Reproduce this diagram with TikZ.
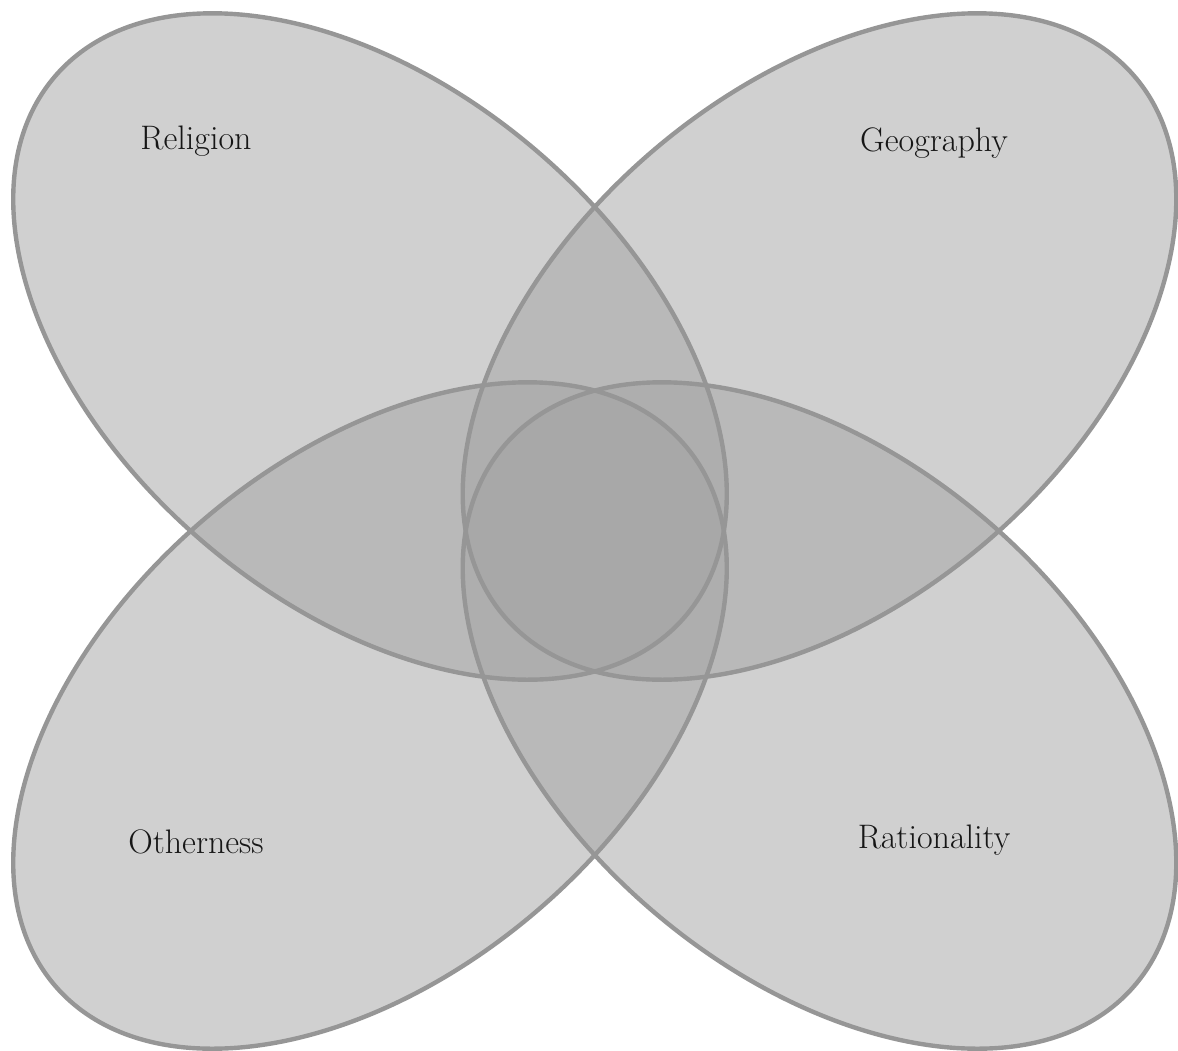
\documentclass[tikz,border=0pt]{standalone}
\usepackage{tikz}
\definecolor{petalfill}{RGB}{163,163,163}
\definecolor{petaledge}{RGB}{150,150,150}
\definecolor{petaltext}{RGB}{22,22,22}

\begin{document}
\begin{tikzpicture}[x=0.5pt, y=-0.5pt,
  petal/.style={fill=petalfill, fill opacity=0.51},
  rim/.style={draw=petaledge, line width=2.2pt},
  lbl/.style={anchor=base, text=petaltext, font=\fontsize{17}{20}\selectfont}]
	\useasboundingbox (0,0) rectangle (1178,1050);
	% the four petals
	\fill[petal, rotate around={-40.6:(370,346.5)}] (370,346.5) ellipse (415 and 257);
	\fill[petal, rotate around={40.6:(819.5,346.5)}] (819.5,346.5) ellipse (415 and 257);
	\fill[petal, rotate around={40.6:(370,715.5)}] (370,715.5) ellipse (415 and 257);
	\fill[petal, rotate around={-40.6:(819.5,715.5)}] (819.5,715.5) ellipse (415 and 257);
	\draw[rim, rotate around={-40.6:(370,346.5)}] (370,346.5) ellipse (415 and 257);
	\draw[rim, rotate around={40.6:(819.5,346.5)}] (819.5,346.5) ellipse (415 and 257);
	\draw[rim, rotate around={40.6:(370,715.5)}] (370,715.5) ellipse (415 and 257);
	\draw[rim, rotate around={-40.6:(819.5,715.5)}] (819.5,715.5) ellipse (415 and 257);
	% labels
	\node[lbl] (rel) at (196,149) {Religion};
	\node[lbl] (geo) at (934,151) {Geography};
	\node[lbl] (oth) at (196,853) {Otherness};
	\node[lbl] (rat) at (934,848) {Rationality};
\end{tikzpicture}
\end{document}
